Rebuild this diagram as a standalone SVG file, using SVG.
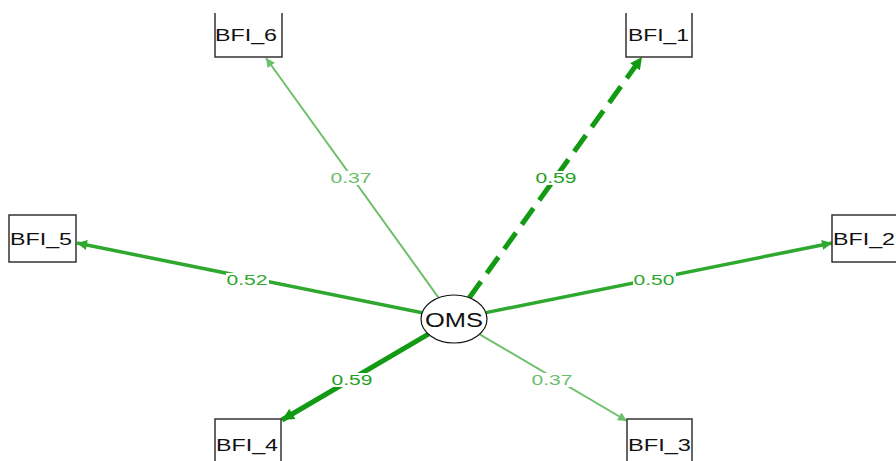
<svg xmlns="http://www.w3.org/2000/svg" width="896" height="461" viewBox="0 0 896 461">
  <style>
    .box { fill: #ffffff; stroke: #333333; stroke-width: 1.5; }
    .nlab { font-family: "Liberation Sans", Arial, sans-serif; font-size: 16px; fill: #111111; }
    .elab { font-family: "Liberation Sans", Arial, sans-serif; font-size: 14.5px; text-anchor: middle; }
    .lbg { fill: #ffffff; }
    .e37 { stroke: #6cc06c; stroke-width: 2; fill: none; }
    .e52 { stroke: #2ea82e; stroke-width: 3.5; fill: none; }
    .e59 { stroke: #129a12; stroke-width: 5; fill: none; }
  </style>
  <defs>
    <marker id="ah37" viewBox="0 0 10 10" refX="10" refY="5" markerWidth="11" markerHeight="9" markerUnits="userSpaceOnUse" orient="auto">
      <path d="M0,0 L10,5 L0,10 Z" fill="#6cc06c"/>
    </marker>
    <marker id="ah52" viewBox="0 0 10 10" refX="10" refY="5" markerWidth="12" markerHeight="10" markerUnits="userSpaceOnUse" orient="auto">
      <path d="M0,0 L10,5 L0,10 Z" fill="#2ea82e"/>
    </marker>
    <marker id="ah59" viewBox="0 0 10 10" refX="10" refY="5" markerWidth="13" markerHeight="12" markerUnits="userSpaceOnUse" orient="auto">
      <path d="M0,0 L10,5 L0,10 Z" fill="#129a12"/>
    </marker>
  </defs>
  <rect width="896" height="461" fill="#ffffff"/>

  <g id="connectors">
    <line class="e37" x1="438.7" y1="297.8" x2="266" y2="58" marker-end="url(#ah37)"/>
    <line class="e59" x1="469.3" y1="297.7" x2="642" y2="57" stroke-dasharray="20 10" marker-end="url(#ah59)"/>
    <line class="e52" x1="422.1" y1="312.7" x2="77" y2="243" marker-end="url(#ah52)"/>
    <line class="e52" x1="486" y1="312.6" x2="832" y2="243" marker-end="url(#ah52)"/>
    <line class="e59" x1="428.4" y1="334.1" x2="282" y2="420" marker-end="url(#ah59)"/>
    <line class="e37" x1="479.7" y1="334.3" x2="627" y2="421" marker-end="url(#ah37)"/>

    <rect class="lbg" x="330" y="171" width="43" height="14"/>
    <text class="elab" x="351" y="183" fill="#6cc06c" textLength="41" lengthAdjust="spacingAndGlyphs">0.37</text>
    <rect class="lbg" x="534" y="171" width="44" height="14"/>
    <text class="elab" x="556" y="183" fill="#1f9f1f" textLength="41" lengthAdjust="spacingAndGlyphs">0.59</text>
    <rect class="lbg" x="226" y="273" width="43" height="14"/>
    <text class="elab" x="247" y="285" fill="#2ea82e" textLength="41" lengthAdjust="spacingAndGlyphs">0.52</text>
    <rect class="lbg" x="633" y="273" width="43" height="14"/>
    <text class="elab" x="654" y="285" fill="#2ea82e" textLength="41" lengthAdjust="spacingAndGlyphs">0.50</text>
    <rect class="lbg" x="331" y="373" width="43" height="14"/>
    <text class="elab" x="352" y="385" fill="#1f9f1f" textLength="41" lengthAdjust="spacingAndGlyphs">0.59</text>
    <rect class="lbg" x="531" y="373" width="43" height="14"/>
    <text class="elab" x="552" y="385" fill="#6cc06c" textLength="41" lengthAdjust="spacingAndGlyphs">0.37</text>
  </g>

  <g id="OMS">
    <ellipse cx="454" cy="319" rx="33" ry="24" fill="#ffffff" stroke="#111111" stroke-width="1.2"/>
    <text x="454" y="327" font-family="'Liberation Sans', Arial, sans-serif" font-size="20" fill="#111111" text-anchor="middle" textLength="58" lengthAdjust="spacingAndGlyphs">OMS</text>
  </g>

  <g id="BFI_6">
    <path class="box" d="M215,13 V57 H282 V13"/>
    <text class="nlab" x="215" y="41" textLength="62" lengthAdjust="spacingAndGlyphs">BFI_6</text>
  </g>
  <g id="BFI_1">
    <path class="box" d="M626,13 V57 H692 V13"/>
    <text class="nlab" x="628" y="41" textLength="61" lengthAdjust="spacingAndGlyphs">BFI_1</text>
  </g>
  <g id="BFI_5">
    <rect class="box" x="9" y="215" width="67" height="47"/>
    <text class="nlab" x="10" y="245" textLength="62" lengthAdjust="spacingAndGlyphs">BFI_5</text>
  </g>
  <g id="BFI_2">
    <rect class="box" x="832" y="215" width="70" height="47"/>
    <text class="nlab" x="833" y="245" textLength="62" lengthAdjust="spacingAndGlyphs">BFI_2</text>
  </g>
  <g id="BFI_4">
    <rect class="box" x="215" y="419" width="66" height="50"/>
    <text class="nlab" x="216" y="451" textLength="62" lengthAdjust="spacingAndGlyphs">BFI_4</text>
  </g>
  <g id="BFI_3">
    <rect class="box" x="627" y="419" width="65" height="50"/>
    <text class="nlab" x="628" y="451" textLength="63" lengthAdjust="spacingAndGlyphs">BFI_3</text>
  </g>
</svg>
